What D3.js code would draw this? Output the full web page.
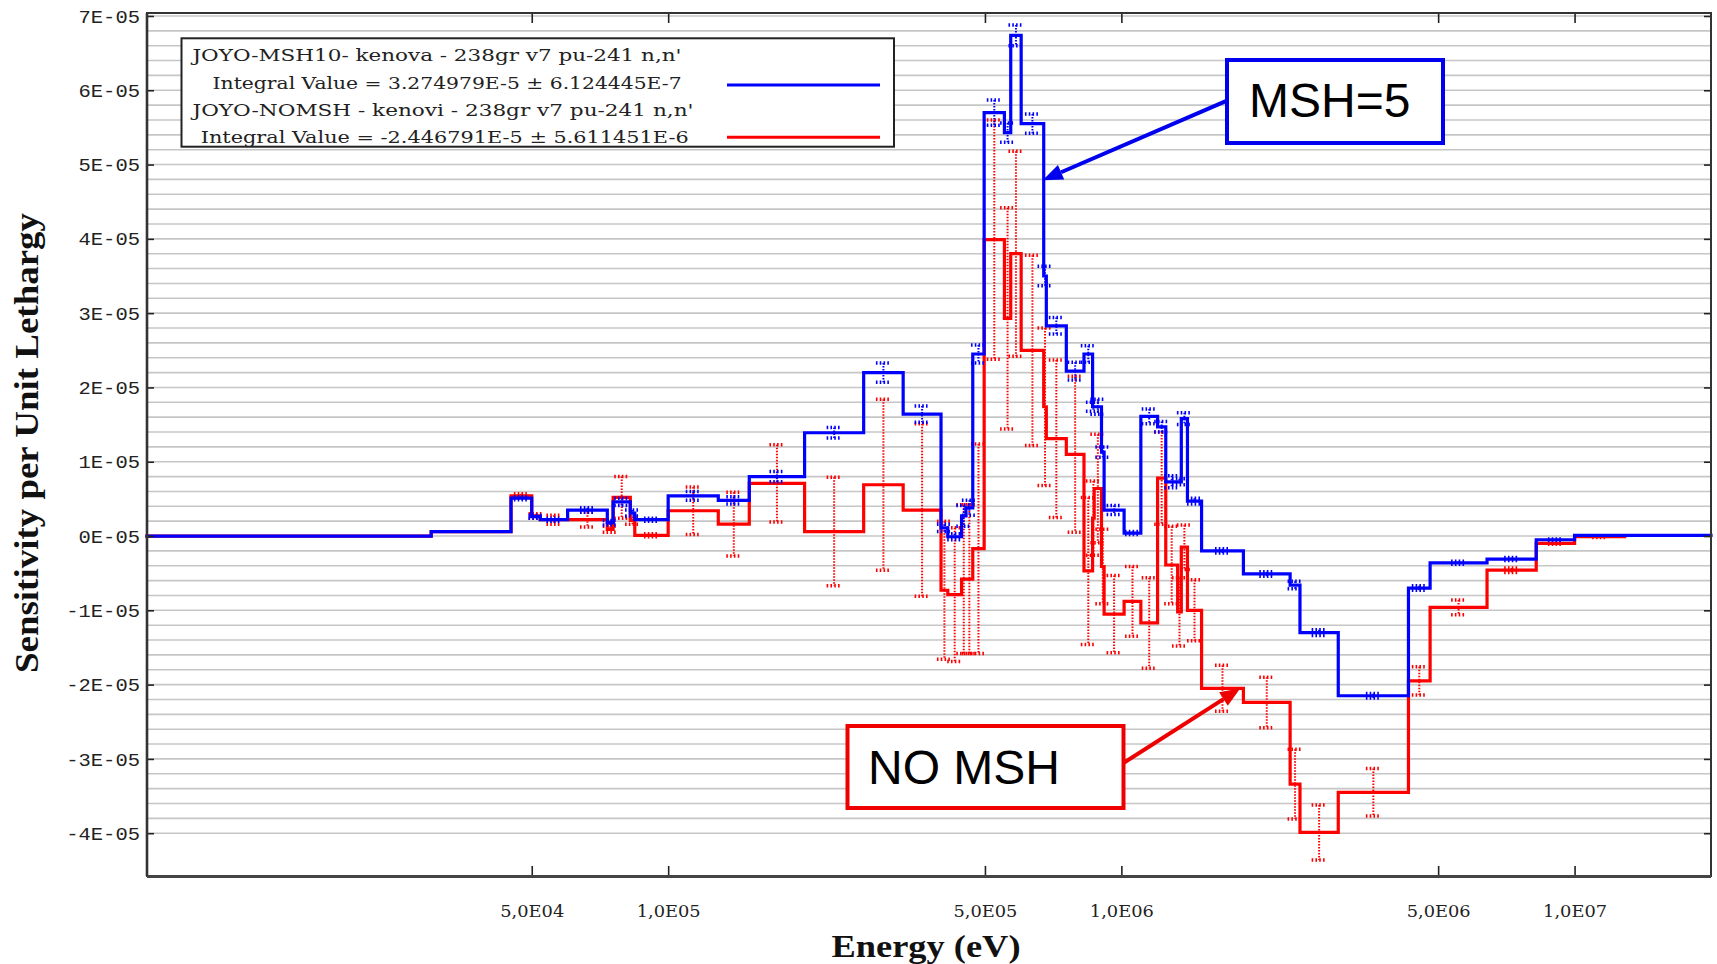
<!DOCTYPE html>
<html><head><meta charset="utf-8">
<script src="https://cdn.jsdelivr.net/npm/d3@7"></script>
<style>
html,body{margin:0;padding:0;background:#fff;}
svg{display:block;}
</style></head>
<body>
<svg id="chart" width="1717" height="964"></svg>
<script>
// ---- data (sensitivity values in units of 1E-05 per unit lethargy) ----
const binEdges = [7.08e3, 3.0e4, 4.5e4, 5.0e4, 5.22e4, 6.0e4, 7.34e4, 7.56e4, 8.25e4, 8.44e4,
  1.0e5, 1.29e5, 1.51e5, 2.0e5, 2.7e5, 3.3e5, 4.0e5, 4.14e5, 4.44e5, 4.54e5,
  4.7e5, 4.98e5, 5.52e5, 5.7e5, 6.01e5, 6.74e5, 6.83e5, 7.56e5, 8.27e5, 8.64e5,
  8.71e5, 9.04e5, 9.16e5, 1.014e6, 1.104e6, 1.202e6, 1.253e6, 1.331e6, 1.356e6, 1.399e6,
  1.503e6, 1.859e6, 2.357e6, 2.478e6, 3.01e6, 4.3e6, 4.8e6, 6.41e6, 8.23e6, 1.0e7,
  1.29e7, 2.0e7];
const msh10Values = [0.0, 0.06, 0.51, 0.26, 0.22, 0.35, 0.18, 0.46, 0.31, 0.22,
  0.54, 0.48, 0.80, 1.39, 2.20, 1.64, 0.11, -0.01, 0.27, 0.38,
  2.45, 5.70, 5.43, 6.74, 5.55, 3.50, 2.83, 2.22, 2.45, 1.74,
  1.74, 1.13, 0.35, 0.04, 1.61, 1.47, 0.73, 0.73, 1.58, 0.47,
  -0.20, -0.51, -0.66, -1.30, -2.15, -0.70, -0.36, -0.31, -0.05, 0.01,
  0.01];
const msh10Errors = [0, 0, 0.02, 0.02, 0.02, 0.03, 0.03, 0.05, 0.04, 0.02,
  0.06, 0.05, 0.07, 0.07, 0.13, 0.11, 0.05, 0.04, 0.14, 0.10,
  0.12, 0.17, 0.13, 0.14, 0.13, 0.13, 0.11, 0.12, 0.11, 0.06,
  0.10, 0.07, 0.06, 0.02, 0.10, 0.07, 0.08, 0.04, 0.08, 0.04,
  0.03, 0.03, 0.05, 0.04, 0.03, 0.03, 0.02, 0.02, 0.01, 0,
  0];
const nomshValues = [0.0, 0.06, 0.54, 0.27, 0.22, 0.22, 0.09, 0.52, 0.21, 0.01,
  0.34, 0.16, 0.71, 0.06, 0.69, 0.35, -0.73, -0.79, -0.58, -0.58,
  -0.17, 3.99, 2.93, 3.80, 2.50, 1.74, 1.31, 1.10, -0.47, 0.24,
  0.64, -0.41, -1.05, -0.88, -1.17, 0.78, -0.39, -1.02, -0.15, -1.00,
  -2.05, -2.24, -3.34, -3.99, -3.45, -1.95, -0.96, -0.46, -0.10, -0.01,
  null];
const nomshErrors = [0, 0, 0.03, 0.03, 0.06, 0.10, 0.04, 0.28, 0.05, 0.02,
  0.32, 0.43, 0.52, 0.73, 1.15, 1.16, 0.93, 0.90, 1.00, 1.00,
  1.41, 1.61, 1.49, 1.38, 1.28, 1.06, 1.06, 1.05, 0.99, 0.50,
  0.73, 0.50, 0.52, 0.47, 0.61, 0.62, 0.52, 0.46, 0.30, 0.41,
  0.31, 0.34, 0.47, 0.37, 0.32, 0.19, 0.10, 0.03, 0.01, 0.01,
  0];
const yTickValues = [-4, -3, -2, -1, 0, 1, 2, 3, 4, 5, 6, 7];
const yTickLabels = ["-4E-05", "-3E-05", "-2E-05", "-1E-05", "0E-05", "1E-05", "2E-05", "3E-05", "4E-05", "5E-05", "6E-05", "7E-05"];
const xTickValues = [5e4, 1e5, 5e5, 1e6, 5e6, 1e7];
const xTickLabels = ["5,0E04", "1,0E05", "5,0E05", "1,0E06", "5,0E06", "1,0E07"];
const legendTexts = [
  "JOYO-MSH10- kenova - 238gr v7 pu-241 n,n'",
  "Integral Value = 3.274979E-5 \u00B1 6.124445E-7",
  "JOYO-NOMSH - kenovi - 238gr v7 pu-241 n,n'",
  "Integral Value = -2.446791E-5 \u00B1 5.611451E-6"
];
const seriesColors = ["#0000ff", "#ff0000"];

// ---- layout ----
const W = 1717, H = 964;
const M = {top: 13, right: 6, bottom: 88, left: 147};
const svg = d3.select("#chart");
const x = d3.scaleLog().domain([7.08e3, 2.0e7]).range([M.left, W - M.right]);
const y = d3.scaleLinear().domain([-4.576, 7.04]).range([H - M.bottom, M.top]);

// gridlines every 0.2E-05
const gridVals = d3.range(-20, 36).map(k => k / 5);
svg.append("g").selectAll("line").data(gridVals).join("line")
  .attr("x1", M.left).attr("x2", W - M.right)
  .attr("y1", d => y(d)).attr("y2", d => y(d))
  .attr("stroke", "#c6c6c6").attr("stroke-width", 1.6);

// step lines
function stepPoints(vals) {
  const pts = [];
  vals.forEach((v, i) => { if (v !== null) pts.push([binEdges[i], v]); });
  const lastIdx = vals.reduce((a, v, i) => v !== null ? i : a, 0);
  pts.push([binEdges[lastIdx + 1], vals[lastIdx]]);
  return pts;
}
const line = d3.line().x(d => x(d[0])).y(d => y(d[1])).curve(d3.curveStepAfter);

function drawErrors(g, vals, errs, color) {
  const data = vals.map((v, i) => ({v, e: errs[i], c: Math.sqrt(binEdges[i] * binEdges[i + 1])}))
    .filter(d => d.v !== null && d.e > 0);
  g.selectAll("line.eb").data(data).join("line").attr("class", "eb")
    .attr("x1", d => x(d.c)).attr("x2", d => x(d.c))
    .attr("y1", d => y(d.v + d.e)).attr("y2", d => y(d.v - d.e))
    .attr("stroke", color).attr("stroke-width", 2).attr("stroke-dasharray", "1.5,1.5");
  const caps = [];
  data.forEach(d => { caps.push({c: d.c, y: d.v + d.e}); caps.push({c: d.c, y: d.v - d.e}); });
  g.selectAll("line.cap").data(caps).join("line").attr("class", "cap")
    .attr("x1", d => x(d.c) - 7.5).attr("x2", d => x(d.c) + 7.5)
    .attr("y1", d => y(d.y)).attr("y2", d => y(d.y))
    .attr("stroke", color).attr("stroke-width", 3.5).attr("stroke-dasharray", "1.6,2.2");
}

const gRed = svg.append("g");
gRed.append("path").attr("d", line(stepPoints(nomshValues)))
  .attr("fill", "none").attr("stroke", seriesColors[1]).attr("stroke-width", 3.2)
  .attr("stroke-linejoin", "miter").attr("stroke-linecap", "square");
drawErrors(svg.append("g"), nomshValues, nomshErrors, seriesColors[1]);
svg.append("path").attr("d", line(stepPoints(msh10Values)))
  .attr("fill", "none").attr("stroke", seriesColors[0]).attr("stroke-width", 3.2)
  .attr("stroke-linejoin", "miter").attr("stroke-linecap", "square");
drawErrors(svg.append("g"), msh10Values, msh10Errors, seriesColors[0]);

// axes
const axL = svg.append("g").attr("transform", `translate(${M.left},0)`)
  .call(d3.axisLeft(y).tickValues(yTickValues).tickFormat((d, i) => yTickLabels[i])
    .tickSizeInner(-7).tickSizeOuter(0).tickPadding(7));
axL.select(".domain").remove();
axL.selectAll("line").attr("stroke", "#222").attr("stroke-width", 1.6);
axL.selectAll("text").attr("font-family", "'Liberation Mono', monospace").attr("font-size", 19)
  .attr("fill", "#222").attr("textLength", d => 12.3 * yTickLabels[yTickValues.indexOf(d)].length)
  .attr("lengthAdjust", "spacingAndGlyphs");

const axR = svg.append("g").attr("transform", `translate(${W - M.right},0)`)
  .call(d3.axisRight(y).tickValues(yTickValues).tickFormat("").tickSizeInner(-7).tickSizeOuter(0));
axR.select(".domain").remove();
axR.selectAll("line").attr("stroke", "#222").attr("stroke-width", 1.6);

const axB = svg.append("g").attr("transform", `translate(0,${H - M.bottom})`)
  .call(d3.axisBottom(x).tickValues(xTickValues).tickFormat((d, i) => xTickLabels[i])
    .tickSizeInner(-10).tickSizeOuter(0).tickPadding(29));
axB.select(".domain").remove();
axB.selectAll("line").attr("stroke", "#222").attr("stroke-width", 1.6);
axB.selectAll("text").attr("font-family", "'DejaVu Serif', serif").attr("font-size", 17)
  .attr("fill", "#222").attr("textLength", 64).attr("lengthAdjust", "spacingAndGlyphs");

const axT = svg.append("g").attr("transform", `translate(0,${M.top})`)
  .call(d3.axisTop(x).tickValues(xTickValues).tickFormat("").tickSizeInner(-10).tickSizeOuter(0));
axT.select(".domain").remove();
axT.selectAll("line").attr("stroke", "#222").attr("stroke-width", 1.6);

// frame
svg.append("rect").attr("x", M.left).attr("y", M.top)
  .attr("width", W - M.right - M.left).attr("height", H - M.bottom - M.top)
  .attr("fill", "none").attr("stroke", "#333").attr("stroke-width", 2);
svg.append("line").attr("x1", M.left).attr("x2", W - M.right)
  .attr("y1", H - M.bottom + 0.5).attr("y2", H - M.bottom + 0.5)
  .attr("stroke", "#444").attr("stroke-width", 3);
svg.append("line").attr("x1", M.left).attr("x2", M.left)
  .attr("y1", M.top).attr("y2", H - M.bottom)
  .attr("stroke", "#333").attr("stroke-width", 2.6);

// axis titles
svg.append("text").attr("x", 926).attr("y", 957).attr("text-anchor", "middle")
  .attr("font-family", "'Liberation Serif', serif").attr("font-weight", "bold").attr("font-size", 32)
  .attr("textLength", 189).attr("lengthAdjust", "spacingAndGlyphs").attr("fill", "#111")
  .text("Energy (eV)");
svg.append("text").attr("transform", "translate(38,443) rotate(-90)").attr("text-anchor", "middle")
  .attr("font-family", "'Liberation Serif', serif").attr("font-weight", "bold").attr("font-size", 34)
  .attr("textLength", 460).attr("lengthAdjust", "spacingAndGlyphs").attr("fill", "#111")
  .text("Sensitivity per Unit Lethargy");

// legend
const lg = svg.append("g");
lg.append("rect").attr("x", 181.5).attr("y", 38.3).attr("width", 712.5).attr("height", 108.4)
  .attr("fill", "#fff").attr("stroke", "#222").attr("stroke-width", 2);
const legendX = [192.5, 212.6, 192.5, 200.7];
const legendW = [489, 469, 501, 488];
const legendY = [61, 89, 116, 142.5];
legendTexts.forEach((t, i) => {
  lg.append("text").attr("x", legendX[i]).attr("y", legendY[i])
    .attr("font-family", "'DejaVu Serif', serif").attr("font-size", 16.5).attr("fill", "#222")
    .attr("textLength", legendW[i]).attr("lengthAdjust", "spacingAndGlyphs").text(t);
});
[85, 137.3].forEach((yy, i) => {
  lg.append("line").attr("x1", 727).attr("x2", 880).attr("y1", yy).attr("y2", yy)
    .attr("stroke", seriesColors[i]).attr("stroke-width", 3);
});

// annotations
function arrow(x1, y1, x2, y2, color) {
  const dx = x2 - x1, dy = y2 - y1, L = Math.hypot(dx, dy);
  const ux = dx / L, uy = dy / L, hl = 20, hw = 8;
  const bx = x2 - ux * hl, by = y2 - uy * hl;
  svg.append("line").attr("x1", x1).attr("y1", y1).attr("x2", bx).attr("y2", by)
    .attr("stroke", color).attr("stroke-width", 4);
  svg.append("polygon")
    .attr("points", `${x2},${y2} ${bx - uy * hw},${by + ux * hw} ${bx + uy * hw},${by - ux * hw}`)
    .attr("fill", color);
}
function box(x0, y0, w, h, color, label, tx, ty) {
  svg.append("rect").attr("x", x0).attr("y", y0).attr("width", w).attr("height", h)
    .attr("fill", "#fff").attr("stroke", color).attr("stroke-width", 4);
  svg.append("text").attr("x", tx).attr("y", ty)
    .attr("font-family", "'Liberation Sans', Arial, sans-serif").attr("font-size", 48)
    .attr("fill", "#000").text(label);
}
box(1227, 60, 216, 83, "#0000ee", "MSH=5", 1249, 117);
arrow(1227, 100.7, x(6.74e5) - 1, y(4.79), "#0000ee");
box(847.5, 726, 276, 82, "#ee0000", "NO MSH", 868, 784);
arrow(1123.5, 763, x(1.83e6), y(-2.05), "#ee0000");
</script>
</body></html>
